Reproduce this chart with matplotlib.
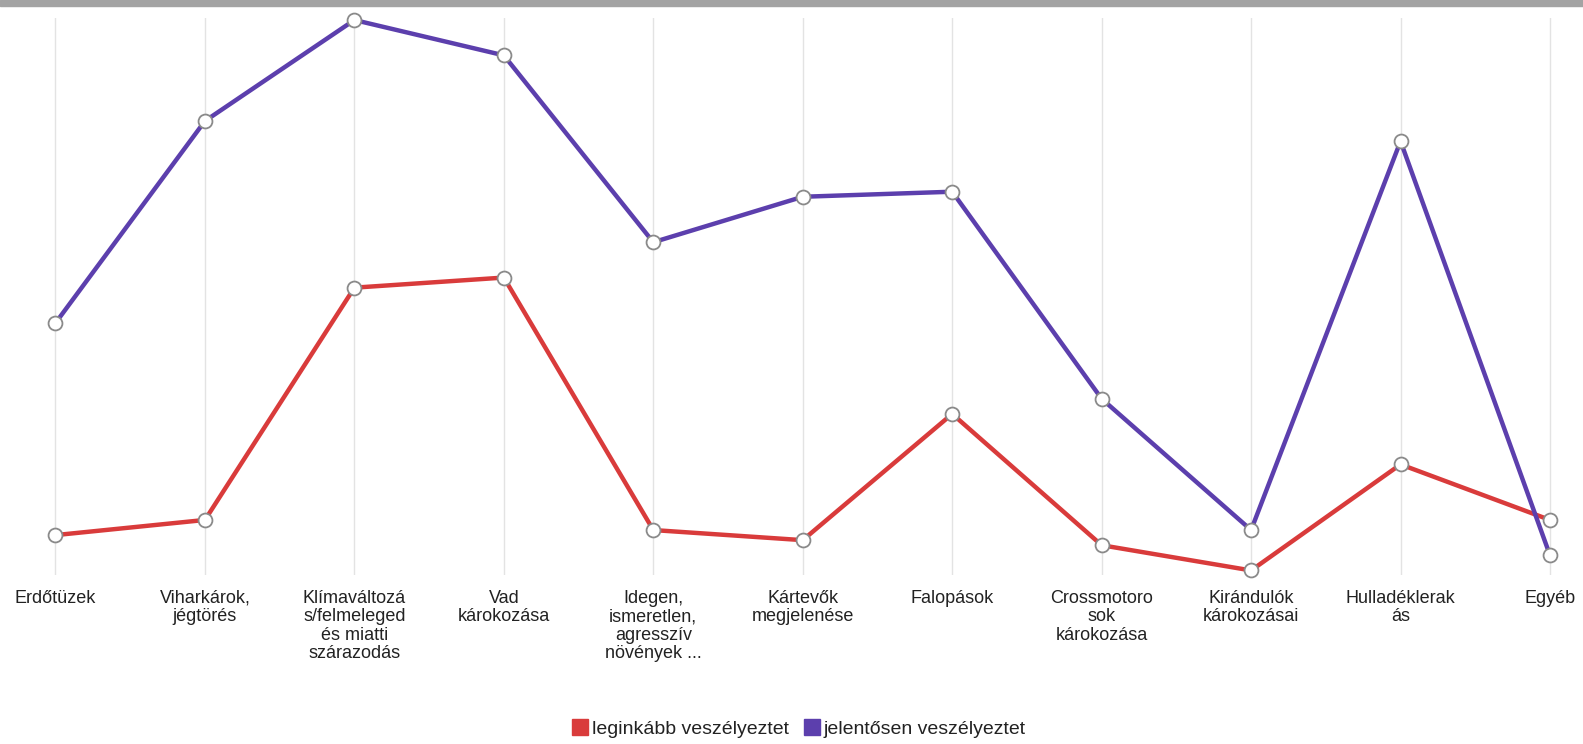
import matplotlib.pyplot as plt
from matplotlib.patches import Rectangle
from matplotlib.lines import Line2D

# kategóriák
categories = [
    "Erdőtüzek",
    "Viharkárok,\njégtörés",
    "Klímaváltozá\ns/felmeleged\nés miatti\nszárazodás",
    "Vad\nkárokozása",
    "Idegen,\nismeretlen,\nagresszív\nnövények ...",
    "Kártevők\nmegjelenése",
    "Falopások",
    "Crossmotoro\nsok\nkárokozása",
    "Kirándulók\nkárokozásai",
    "Hulladéklerak\nás",
    "Egyéb",
]
leginkabb = [10, 13, 59, 61, 11, 9, 34, 8, 3, 24, 13]
jelentosen = [52, 92, 112, 105, 68, 77, 78, 37, 11, 88, 6]

red = "#d93b3b"
purple = "#5c3fad"

plt.rcParams["font.family"] = ["Liberation Sans", "DejaVu Sans"]

fig = plt.figure(figsize=(15.83, 7.44), dpi=100)
W, H = 1583, 744
ax = fig.add_axes([20 / W, 1 - 575 / H, (1563 - 20) / W, (575 - 18) / H])

x = list(range(len(categories)))
for xi in x:
    ax.axvline(xi, color="#e3e3e3", lw=1, zorder=0)

mk = dict(marker="o", markersize=10, markerfacecolor="white",
          markeredgecolor="#8a8a8a", markeredgewidth=1.3, clip_on=False)
ax.plot(x, leginkabb, color=red, lw=3.2, zorder=3, **mk)
ax.plot(x, jelentosen, color=purple, lw=3.2, zorder=4, **mk)

ax.set_xlim(-0.2375, 10.087)
ax.set_ylim(2.1, 112.4)
ax.set_yticks([])
ax.set_xticks(x)
ax.set_xticklabels(categories, fontsize=13, color="#222222", linespacing=1.12, va="top")
ax.tick_params(axis="x", length=0, pad=10.5)
for s in ax.spines.values():
    s.set_visible(False)

# szürke sáv felül
fig.patches.append(Rectangle((0, 1 - 6 / H), 1, 6 / H, transform=fig.transFigure,
                             color="#a3a3a3", zorder=10))

handles = [
    Line2D([], [], marker="s", ls="", color=red, markersize=12, label="leginkább veszélyeztet"),
    Line2D([], [], marker="s", ls="", color=purple, markersize=12, label="jelentősen veszélyeztet"),
]
fig.legend(handles=handles, loc="center", bbox_to_anchor=(799 / W, 1 - 729 / H), ncol=2,
           frameon=False, fontsize=14, handlelength=0.8, handletextpad=0.2,
           columnspacing=0.8, labelcolor="#222222")

fig.savefig("out.png", dpi=100)
